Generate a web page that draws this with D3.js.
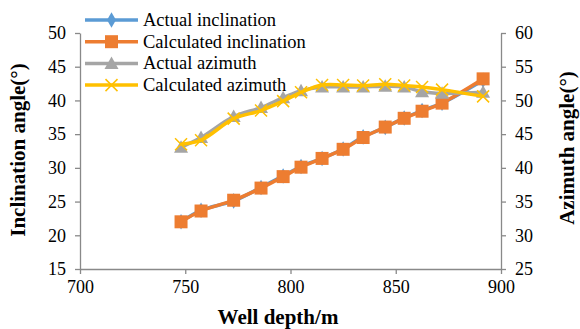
<!DOCTYPE html>
<html>
<head>
<meta charset="utf-8">
<script src="https://cdn.jsdelivr.net/npm/d3@7"></script>
<style>
  body { margin: 0; background: #fff; }
  svg { display: block; }
  svg text { font-family: "Liberation Serif", "Times New Roman", serif; }
</style>
</head>
<body>
<div id="chart"></div>
<script>
// well depth (m)
var depth = [748, 757.5, 773, 786, 796.5, 805, 815, 825, 834.5, 845, 854, 862.5, 872, 891.5];
// inclination (deg), left axis
var actualInc = [22.0, 23.7, 25.1, 27.1, 28.8, 30.2, 31.4, 32.8, 34.6, 36.0, 37.4, 38.5, 39.6, 43.0];
var calcInc   = [22.0, 23.6, 25.2, 27.0, 28.7, 30.1, 31.4, 32.75, 34.5, 36.05, 37.35, 38.4, 39.6, 43.2];
// azimuth (deg), right axis
var actualAzi = [43.05, 44.5, 47.6, 48.95, 50.4, 51.45, 52.0, 52.0, 52.0, 52.1, 52.0, 51.3, 51.05, 51.2];
var calcAzi   = [43.5, 44.1, 47.3, 48.5, 49.9, 51.2, 52.3, 52.3, 52.2, 52.4, 52.2, 52.0, 51.6, 50.6];

var xTicks = [700, 750, 800, 850, 900];
var leftTicks = [15, 20, 25, 30, 35, 40, 45, 50];
var rightTicks = [25, 30, 35, 40, 45, 50, 55, 60];

var W = 580, H = 329;
var svg = d3.select("#chart").append("svg")
    .attr("width", W)
    .attr("height", H);

var x = d3.scaleLinear().domain([700, 900]).range([80, 501]);
var yL = d3.scaleLinear().domain([15, 50]).range([269, 33]);
var yR = d3.scaleLinear().domain([25, 60]).range([269, 33]);

var axisColor = "#898989";

function styleAxis(g) {
    g.attr("font-family", null).attr("font-size", null);
    g.select(".domain").attr("stroke", axisColor).attr("stroke-width", 1.3);
    g.selectAll(".tick line").attr("stroke", axisColor).attr("stroke-width", 1.3);
    g.selectAll(".tick text")
        .attr("fill", "#000")
        .style("font-size", "18px")
        .style("font-family", "'Liberation Serif', 'Times New Roman', serif");
}

svg.append("g")
    .attr("transform", "translate(0,269)")
    .call(d3.axisBottom(x).tickValues(xTicks).tickSize(5).tickSizeOuter(0).tickPadding(6))
    .call(styleAxis);

svg.append("g")
    .attr("transform", "translate(80,0)")
    .call(d3.axisLeft(yL).tickValues(leftTicks).tickSize(5).tickSizeOuter(0).tickPadding(9))
    .call(styleAxis);

svg.append("g")
    .attr("transform", "translate(501,0)")
    .call(d3.axisRight(yR).tickValues(rightTicks).tickSize(5).tickSizeOuter(0).tickPadding(9))
    .call(styleAxis);

// axis titles
svg.append("text")
    .text("Well depth/m")
    .attr("x", 278).attr("y", 324)
    .attr("text-anchor", "middle")
    .attr("font-weight", "bold")
    .attr("font-size", "21px");

svg.append("text")
    .text("Inclination angle(°)")
    .attr("transform", "translate(25,150) rotate(-90)")
    .attr("text-anchor", "middle")
    .attr("font-weight", "bold")
    .attr("font-size", "21px");

svg.append("text")
    .text("Azimuth angle(°)")
    .attr("transform", "translate(574,148) rotate(-90)")
    .attr("text-anchor", "middle")
    .attr("font-weight", "bold")
    .attr("font-size", "21px");

var series = [
    { name: "Actual inclination", values: actualInc, y: yL, color: "#5B9BD5", marker: "diamond" },
    { name: "Calculated inclination", values: calcInc, y: yL, color: "#ED7D31", marker: "square" },
    { name: "Actual azimuth", values: actualAzi, y: yR, color: "#A5A5A5", marker: "triangle" },
    { name: "Calculated azimuth", values: calcAzi, y: yR, color: "#FFC000", marker: "cross" }
];

function drawMarker(g, type, color, cx, cy) {
    if (type == "diamond") {
        g.append("path")
            .attr("d", d3.symbol().type(d3.symbolDiamond).size(70)())
            .attr("transform", "translate(" + cx + "," + cy + ")")
            .attr("fill", color);
    } else if (type == "square") {
        g.append("rect")
            .attr("x", cx - 6.5).attr("y", cy - 6.5)
            .attr("width", 13).attr("height", 13)
            .attr("fill", color);
    } else if (type == "triangle") {
        g.append("path")
            .attr("d", "M0,-7L7,5.5L-7,5.5Z")
            .attr("transform", "translate(" + cx + "," + cy + ")")
            .attr("fill", color);
    } else {
        g.append("path")
            .attr("d", "M-6,-6L6,6M-6,6L6,-6")
            .attr("transform", "translate(" + cx + "," + cy + ")")
            .attr("stroke", color)
            .attr("stroke-width", 1.5)
            .attr("fill", "none");
    }
}

var plot = svg.append("g");
series.forEach(function(s) {
    var line = d3.line()
        .x(function(d, i) { return x(depth[i]); })
        .y(function(d) { return s.y(d); })
        .curve(d3.curveCatmullRom.alpha(0.5));

    plot.append("path")
        .attr("d", line(s.values))
        .attr("fill", "none")
        .attr("stroke", s.color)
        .attr("stroke-width", 3.5)
        .attr("stroke-linejoin", "round");

    for (var i = 0; i < s.values.length; i++) {
        drawMarker(plot, s.marker, s.color, x(depth[i]), s.y(s.values[i]));
    }
});

// legend
var legend = svg.append("g");
series.forEach(function(s, i) {
    var ly = 20 + i * 21.7;
    legend.append("line")
        .attr("x1", 85).attr("x2", 138)
        .attr("y1", ly).attr("y2", ly)
        .attr("stroke", s.color)
        .attr("stroke-width", 3.5);
    drawMarker(legend, s.marker, s.color, 111.5, ly);
    legend.append("text")
        .text(s.name)
        .attr("x", 143).attr("y", ly + 6)
        .attr("font-size", "18.5px")
        .attr("fill", "#000");
});
</script>
</body>
</html>
